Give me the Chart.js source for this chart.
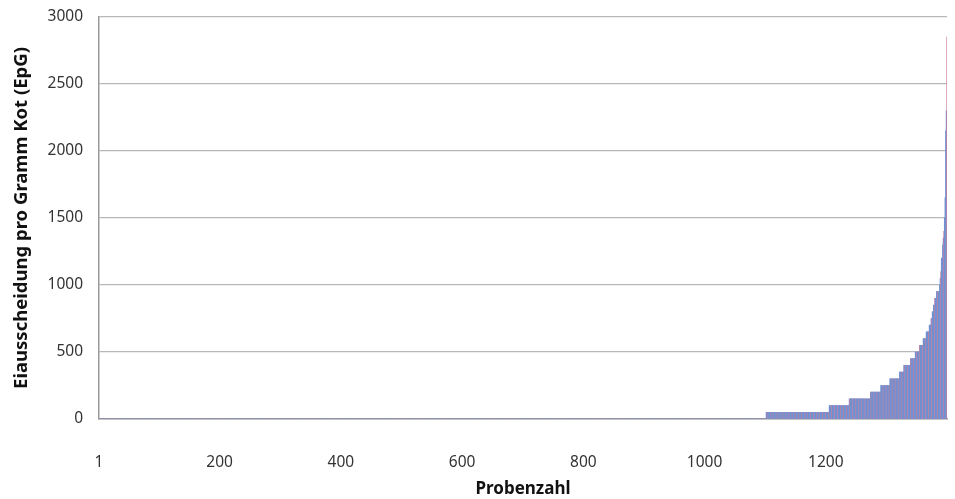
<!DOCTYPE html>
<html>
<head>
<meta charset="utf-8">
<script src="https://cdn.jsdelivr.net/npm/chart.js@4/dist/chart.umd.min.js"></script>
<style>
  html, body { margin: 0; padding: 0; background: #ffffff; }
  #wrap { width: 955px; height: 499px; }
</style>
</head>
<body>
<div id="wrap"><canvas id="c" width="955" height="499"></canvas></div>
<script>
// Egg counts per gram of faeces (EpG), samples sorted ascending.
// Each level is paired with the number of samples that showed it.
const epgLevels    = [0, 50, 100, 150, 200, 250, 300, 350, 400, 450, 500, 550, 600, 650, 700, 750, 800, 850, 900, 950,
                      1000, 1050, 1100, 1200, 1300, 1350, 1400, 1500, 1650, 2150, 2300, 2850];
const sampleCounts = [1101, 104, 33, 35, 17, 15, 16, 7, 11, 8, 7, 6, 5, 5, 3, 2, 2, 2, 3, 5,
                      1, 1, 1, 2, 1, 1, 1, 1, 1, 1, 1, 1];

// Sample numbers that carry an axis label
const xTickSamples = [1, 200, 400, 600, 800, 1000, 1200];
const yTicks = [0, 500, 1000, 1500, 2000, 2500, 3000];

// Sorted sample values and their sample numbers
const epgValues = [];
epgLevels.forEach((lvl, i) => {
  for (let k = 0; k < sampleCounts[i]; k++) epgValues.push(lvl);
});
const sampleNumbers = epgValues.map((_, i) => String(i + 1));

const FONT = "'Noto Sans', sans-serif";
const BLUE = '#7290d0';
const PINK = '#cf7f9c';

new Chart(document.getElementById('c'), {
  type: 'bar',
  data: {
    labels: sampleNumbers,
    datasets: [{
      data: epgValues,
      backgroundColor: (ctx) => (ctx.dataIndex % 5 === 4 ? PINK : BLUE),
      borderWidth: 0,
      barPercentage: 1,
      categoryPercentage: 1
    }]
  },
  options: {
    responsive: false,
    animation: false,
    devicePixelRatio: 1,
    layout: { padding: { top: 17, right: 8, left: 0, bottom: 0 } },
    plugins: { legend: { display: false }, tooltip: { enabled: false } },
    scales: {
      x: {
        type: 'category',
        offset: false,
        grid: { display: false, drawTicks: false },
        border: { display: true, color: '#9a9a9a', width: 1.5 },
        ticks: {
          autoSkip: false,
          maxRotation: 0,
          minRotation: 0,
          padding: 34,
          color: '#333333',
          font: { family: FONT, size: 15.5 },
          callback: function (value, index) {
            const n = index + 1;
            return xTickSamples.includes(n) ? String(n) : '';
          }
        },
        title: {
          display: true,
          text: 'Probenzahl',
          color: '#111111',
          font: { family: FONT, size: 17, weight: 'bold' },
          padding: { top: 0, bottom: 0 }
        },
        afterFit: (scale) => {
          scale.height = 80;
          scale.paddingLeft = 0;
          scale.paddingRight = 0;
        }
      },
      y: {
        min: 0,
        max: 3000,
        afterBuildTicks: (scale) => { scale.ticks = yTicks.map(v => ({ value: v })); },
        grid: { color: '#b8b8b8', lineWidth: 1.2, drawTicks: false },
        border: { display: true, color: '#9a9a9a', width: 1.5 },
        ticks: {
          padding: 16,
          color: '#333333',
          font: { family: FONT, size: 15.5 },
          callback: (value) => String(value)
        },
        title: {
          display: true,
          text: 'Eiausscheidung pro Gramm Kot (EpG)',
          color: '#111111',
          font: { family: FONT, size: 18.5, weight: 'bold' },
          padding: { top: 11, bottom: 0 }
        },
        afterFit: (scale) => {
          scale.width = 99;
          scale.paddingTop = 0;
          scale.paddingBottom = 0;
        }
      }
    }
  }
});
</script>
</body>
</html>
